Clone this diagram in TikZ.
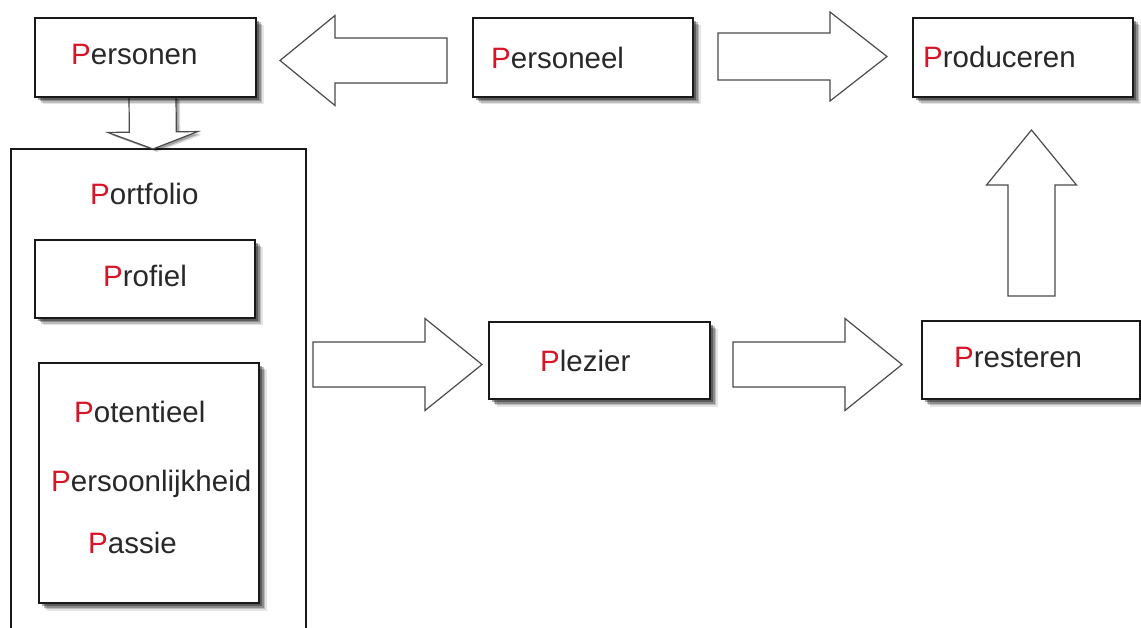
\documentclass[tikz,border=0pt]{standalone}
\usepackage{fontspec}
\setmainfont{Liberation Sans}
\usetikzlibrary{calc,shadows}
\definecolor{pred}{RGB}{215,20,40}
\definecolor{txtc}{RGB}{40,40,40}
\definecolor{edgec}{RGB}{25,25,25}
\definecolor{arrc}{RGB}{75,75,75}
\newcommand\RP{\textcolor{pred}{P}}
\newcommand\blockarr[6][]{%
  \coordinate (hb) at ($(#3)!#6!(#2)$);
  \draw[barrow,#1] ($(#2)!#4!90:(#3)$) -- ($(hb)!#4!90:(#3)$) -- ($(hb)!#5!90:(#3)$) -- (#3)
    -- ($(hb)!#5!-90:(#3)$) -- ($(hb)!#4!-90:(#3)$) -- ($(#2)!#4!-90:(#3)$) -- cycle;}
\tikzset{
  softshadow/.style={
    drop shadow={shadow xshift=7.5pt, shadow yshift=-7.5pt, opacity=.10, fill=black},
    drop shadow={shadow xshift=6pt, shadow yshift=-6pt, opacity=.18, fill=black},
    drop shadow={shadow xshift=4.5pt, shadow yshift=-4.5pt, opacity=.25, fill=black},
    drop shadow={shadow xshift=3pt, shadow yshift=-3pt, opacity=.35, fill=black}},
  arrowshadow/.style={
    drop shadow={shadow xshift=4pt, shadow yshift=-3pt, opacity=.15, fill=black},
    drop shadow={shadow xshift=2.5pt, shadow yshift=-2pt, opacity=.25, fill=black}},
  box/.style={rectangle, draw=edgec, line width=1.3pt, fill=white, inner sep=0pt, softshadow},
  txt/.style={font=\fontsize{29.5}{35}\selectfont, text=txtc, inner sep=0pt, anchor=base west},
  barrow/.style={draw=arrc, line width=1.2pt, fill=white, line join=miter},
  frame/.style={draw=edgec, line width=1.3pt}
}
\begin{document}
\begin{tikzpicture}[x=1pt, y=-1pt]
\useasboundingbox[fill=white] (0,0) rectangle (1141,628);

% Portfolio frame (runs off the bottom edge)
\coordinate (pfbl) at (11,628);
\coordinate (pfbr) at (306,628);
\draw[frame] (pfbl) -- (11,149) -- (306,149) -- (pfbr);
\node[txt] (portfolio) at (90,205) {\RP ortfolio};

% connector end points
\coordinate (a1s) at (447,60.5);   \coordinate (a1e) at (280,60.5);
\coordinate (a2s) at (718,56.5);   \coordinate (a2e) at (887,56.5);
\coordinate (a3s) at (152.5,97);   \coordinate (a3e) at (153,149);
\coordinate (a4s) at (313,364.5);  \coordinate (a4e) at (482,364.5);
\coordinate (a5s) at (733,364.5);  \coordinate (a5e) at (902,364.5);
\coordinate (a6s) at (1031.5,296); \coordinate (a6e) at (1031.5,130);

\blockarr{a1s}{a1e}{22.5pt}{45pt}{55pt}
\blockarr{a2s}{a2e}{23.5pt}{44.5pt}{57pt}
\blockarr[arrowshadow]{a3s}{a3e}{23.5pt}{45pt}{17pt}
\blockarr{a4s}{a4e}{22.5pt}{46pt}{57pt}
\blockarr{a5s}{a5e}{22.5pt}{46pt}{57pt}
\blockarr{a6s}{a6e}{23.5pt}{45pt}{55pt}

% boxes
\node[box, minimum width=221pt, minimum height=79pt] (personen)   at (145.5,57.5) {};
\node[box, minimum width=220pt, minimum height=79pt] (personeel)  at (583,57.5) {};
\node[box, minimum width=220pt, minimum height=79pt] (produceren) at (1023,57.5) {};
\node[box, minimum width=220pt, minimum height=78pt] (profiel)    at (145,279) {};
\node[box, minimum width=220pt, minimum height=240pt] (ppp)       at (149,483) {};
\node[box, minimum width=221pt, minimum height=77pt] (plezier)    at (599.5,360.5) {};
\node[box, minimum width=218pt, minimum height=78pt] (presteren)  at (1031,360) {};

% texts
\node[txt] (tpersonen)   at (71,65)   {\RP ersonen};
\node[txt] (tpersoneel)  at (491,69)  {\RP ersoneel};
\node[txt] (tproduceren) at (923,68)  {\RP roduceren};
\node[txt] (tprofiel)    at (103,287) {\RP rofiel};
\node[txt] (tpotentieel) at (74,422)  {\RP otentieel};
\node[txt] (tpersoon)    at (51,491)  {\RP ersoonlijkheid};
\node[txt] (tpassie)     at (88,553)  {\RP assie};
\node[txt] (tplezier)    at (540,372) {\RP lezier};
\node[txt] (tpresteren)  at (954,368) {\RP resteren};
\end{tikzpicture}
\end{document}
